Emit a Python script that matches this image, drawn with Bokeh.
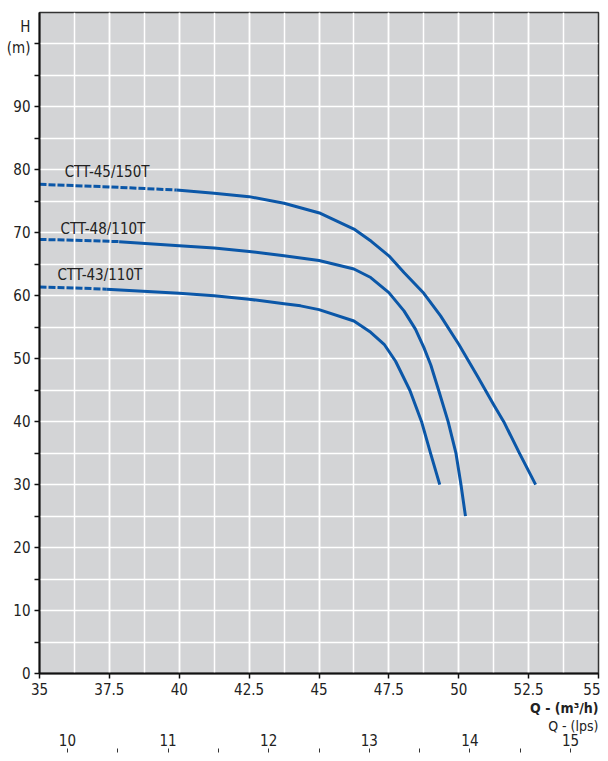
from bokeh.plotting import figure
from bokeh.models import (LinearAxis, Range1d, SingleIntervalTicker, FixedTicker,
                          Title, ColumnDataSource, NumeralTickFormatter)
from bokeh.core.properties import value
from bokeh.embed import file_html
from bokeh.resources import INLINE

FONT = "DejaVu Sans Condensed, Roboto, sans-serif"
TXT = "#222222"
BLUE = "#0b57a8"

# ---- data (Q in m3/h, H in m) ----
q_45_150 = [35, 37.5, 39.9, 41.25, 42.5, 43.75, 45.05, 46.25, 46.87, 47.5, 48.04, 48.75,
            49.35, 50.0, 50.66, 51.25, 51.61, 52.17, 52.75]
h_45_150 = [77.7, 77.3, 76.8, 76.3, 75.75, 74.7, 73.1, 70.6, 68.65, 66.35, 63.7, 60.4,
            56.8, 52.3, 47.3, 42.7, 40.0, 35.0, 30.0]
dash_end_45_150 = 2

q_48_110 = [35, 36.5, 37.85, 40.0, 41.25, 42.5, 43.75, 45, 46.25, 46.85, 47.5, 48.04,
            48.45, 48.75, 49.0, 49.28, 49.62, 49.9, 50.08, 50.24]
h_48_110 = [68.95, 68.8, 68.6, 67.95, 67.6, 67.05, 66.35, 65.6, 64.25, 62.9, 60.5, 57.6,
            54.7, 51.8, 49.0, 45.0, 40.0, 35.0, 30.0, 25.0]
dash_end_48_110 = 2

q_43_110 = [35, 36.5, 37.4, 40.0, 41.25, 42.5, 43.75, 44.34, 45, 46.25, 46.85, 47.33,
            47.74, 48.25, 48.67, 48.99, 49.32]
h_43_110 = [61.4, 61.2, 61.05, 60.4, 60.0, 59.45, 58.75, 58.4, 57.8, 56.0, 54.2, 52.3,
            49.6, 45.0, 40.0, 35.0, 30.0]
dash_end_43_110 = 2

curve_names = ["CTT-45/150T", "CTT-48/110T", "CTT-43/110T"]
label_q = [35.9, 35.75, 35.64]
label_h = [79.7, 70.65, 63.3]

h_ticks = [0, 10, 20, 30, 40, 50, 60, 70, 80, 90]
h_minor = [0, 5, 10, 15, 20, 25, 30, 35, 40, 45, 50, 55, 60, 65, 70, 75, 80, 85, 90, 95, 100]
h_title_pos = 101
lps_ticks_major = [10, 11, 12, 13, 14, 15]
lps_ticks_all = [10, 10.5, 11, 11.5, 12, 12.5, 13, 13.5, 14, 14.5, 15]
M3H_PER_LPS = 3.6

# ---- figure ----
p = figure(width=600, height=753, x_range=Range1d(35, 55), y_range=Range1d(0, 105),
           output_backend="svg", toolbar_location=None,
           min_border_left=39, min_border_right=2, min_border_top=12, min_border_bottom=80)
p.background_fill_color = "#d3d4d6"
p.border_fill_color = "white"
p.outline_line_color = "#333333"
p.outline_line_width = 1.5

# grid
p.xgrid.grid_line_color = "white"
p.xgrid.grid_line_width = 1.5
p.xgrid.minor_grid_line_color = "white"
p.xgrid.minor_grid_line_width = 1.5
p.ygrid.ticker = FixedTicker(ticks=h_minor)
p.ygrid.grid_line_color = "white"
p.ygrid.grid_line_width = 1.5

# x axis (m3/h)
xa = p.xaxis[0]
xa.ticker = SingleIntervalTicker(interval=2.5, num_minor_ticks=2)
xa.formatter = NumeralTickFormatter(format="0.[0]")
xa.minor_tick_line_color = None
xa.major_tick_out = 5
xa.major_tick_in = 0
xa.major_label_standoff = 4
xa.axis_line_color = "#111111"
xa.axis_line_width = 2
xa.major_tick_line_color = "#111111"
xa.major_tick_line_width = 1.5
xa.major_label_text_font = FONT
xa.major_label_text_font_size = "15px"
xa.major_label_text_color = TXT

# y axis (m)
ya = p.yaxis[0]
ya.ticker = FixedTicker(ticks=h_ticks + [h_title_pos], minor_ticks=h_minor)
ya.major_label_overrides = {h_title_pos: "H\n(m)"}
ya.major_tick_line_color = None
ya.major_tick_out = 5
ya.minor_tick_out = 5
ya.minor_tick_in = 0
ya.major_label_standoff = 4
ya.axis_line_color = "#111111"
ya.axis_line_width = 2
ya.minor_tick_line_color = "#111111"
ya.minor_tick_line_width = 1.5
ya.major_label_text_font = FONT
ya.major_label_text_font_size = "15px"
ya.major_label_text_color = TXT

# titles of the Q axes, right aligned below the main axis
t1 = Title(text="Q - (m³/h)", align="right", text_font=FONT, text_font_size="14px",
           text_font_style="bold", text_color=TXT, standoff=0, offset=0)
p.add_layout(t1, "below")
t2 = Title(text="Q - (lps)", align="right", text_font=FONT, text_font_size="14px",
           text_font_style="normal", text_color=TXT, standoff=0, offset=0)
p.add_layout(t2, "below")

# secondary lps axis
p.extra_x_ranges = {"lps": Range1d(35 / M3H_PER_LPS, 55 / M3H_PER_LPS)}
lps_lab = LinearAxis(x_range_name="lps", ticker=FixedTicker(ticks=lps_ticks_major))
lps_lab.axis_line_color = None
lps_lab.major_tick_line_color = None
lps_lab.minor_tick_line_color = None
lps_lab.major_tick_out = 0
lps_lab.major_tick_in = 0
lps_lab.major_label_standoff = 0
lps_lab.major_label_text_font = FONT
lps_lab.major_label_text_font_size = "15px"
lps_lab.major_label_text_color = TXT
p.add_layout(lps_lab, "below")

lps_tk = LinearAxis(x_range_name="lps", ticker=FixedTicker(ticks=lps_ticks_all))
lps_tk.axis_line_color = None
lps_tk.minor_tick_line_color = None
lps_tk.major_tick_line_color = "#333333"
lps_tk.major_tick_out = 4
lps_tk.major_tick_in = 0
lps_tk.major_label_standoff = 0
lps_tk.major_label_text_font_size = "1px"
lps_tk.major_label_text_color = None
p.add_layout(lps_tk, "below")

# curves
curves = [(q_45_150, h_45_150, dash_end_45_150),
          (q_48_110, h_48_110, dash_end_48_110),
          (q_43_110, h_43_110, dash_end_43_110)]
for q, h, de in curves:
    p.line(q[:de + 1], h[:de + 1], line_color=BLUE, line_width=3, line_dash="7 2")
    p.line(q[de:], h[de:], line_color=BLUE, line_width=3, line_join="round")

src = ColumnDataSource(dict(x=label_q, y=label_h, t=curve_names))
p.text(x="x", y="y", text="t", source=src, text_font=value(FONT), text_font_size="15px",
       text_color=TXT, text_baseline="middle", text_align="left")

open("out.html", "w").write(file_html(p, INLINE))
